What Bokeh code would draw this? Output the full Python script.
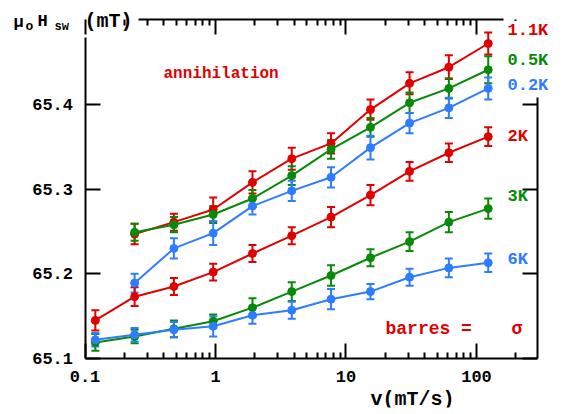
from bokeh.plotting import figure
from bokeh.models import (ColumnDataSource, Whisker, TeeHead, Label, FixedTicker,
                          LogAxis, LinearAxis, Range1d)
from bokeh.core.properties import value
from bokeh.embed import file_html
from bokeh.resources import INLINE

# ---- data ----
v_full = [0.12, 0.24, 0.48, 0.96, 1.92, 3.84, 7.68, 15.4, 30.7, 61.4, 123]
v_part = [0.24, 0.48, 0.96, 1.92, 3.84, 7.68, 15.4, 30.7, 61.4, 123]

h_11K = [65.247, 65.261, 65.276, 65.308, 65.336, 65.354, 65.394, 65.425, 65.444, 65.472]
e_11K = [0.012, 0.010, 0.014, 0.013, 0.013, 0.012, 0.012, 0.013, 0.014, 0.013]
h_05K = [65.249, 65.258, 65.270, 65.289, 65.316, 65.347, 65.373, 65.402, 65.419, 65.441]
e_05K = [0.010, 0.009, 0.010, 0.010, 0.011, 0.011, 0.011, 0.012, 0.012, 0.016]
h_02K = [65.189, 65.230, 65.248, 65.280, 65.298, 65.314, 65.349, 65.378, 65.396, 65.419]
e_02K = [0.011, 0.012, 0.014, 0.010, 0.012, 0.012, 0.014, 0.012, 0.012, 0.013]
h_2K = [65.145, 65.173, 65.185, 65.202, 65.224, 65.245, 65.267, 65.293, 65.321, 65.343, 65.362]
e_2K = [0.012, 0.011, 0.010, 0.010, 0.010, 0.010, 0.012, 0.012, 0.011, 0.011, 0.011]
h_3K = [65.119, 65.126, 65.135, 65.144, 65.160, 65.179, 65.198, 65.219, 65.238, 65.261, 65.277]
e_3K = [0.010, 0.008, 0.010, 0.008, 0.011, 0.011, 0.012, 0.010, 0.011, 0.012, 0.012]
h_6K = [65.122, 65.128, 65.134, 65.138, 65.151, 65.157, 65.170, 65.179, 65.196, 65.207, 65.213]
e_6K = [0.008, 0.008, 0.009, 0.012, 0.010, 0.010, 0.012, 0.009, 0.010, 0.011, 0.011]

x_major = [0.1, 1, 10, 100]
x_labels = ["0.1", "1", "10", "100"]
x_minor = [0.2, 0.3, 0.4, 0.5, 0.6, 0.7, 0.8, 0.9, 2, 3, 4, 5, 6, 7, 8, 9,
           20, 30, 40, 50, 60, 70, 80, 90, 200]
y_major = [65.1, 65.2, 65.3, 65.4]
y_labels = ["65.1", "65.2", "65.3", "65.4"]

# plot box limits (axes drawn at these data positions)
X_LO, X_HI = 0.1, 293
Y_LO, Y_HI = 65.1, 65.5

RED, GREEN, BLUE = "#e00000", "#078a07", "#2e7cff"
FONT = "Liberation Mono"

series = [
    ("1.1K", v_part, h_11K, e_11K, RED),
    ("0.5K", v_part, h_05K, e_05K, GREEN),
    ("0.2K", v_part, h_02K, e_02K, BLUE),
    ("2K", v_full, h_2K, e_2K, RED),
    ("3K", v_full, h_3K, e_3K, GREEN),
    ("6K", v_full, h_6K, e_6K, BLUE),
]

# the frame covers almost the whole canvas; the plot box sits inside it
p = figure(width=560, height=412, x_axis_type="log",
           x_axis_location=None, y_axis_location=None,
           x_range=Range1d(0.02459, 403.1), y_range=Range1d(65.0421, 65.5169),
           output_backend="svg", toolbar_location=None,
           min_border_left=5, min_border_right=5, min_border_top=5, min_border_bottom=5,
           outline_line_color=None, background_fill_color="white", border_fill_color="white")
p.grid.visible = False

for name, xs, ys, es, col in series:
    src = ColumnDataSource(dict(x=xs, y=ys,
                                upper=[a + b for a, b in zip(ys, es)],
                                lower=[a - b for a, b in zip(ys, es)]))
    p.add_layout(Whisker(base="x", upper="upper", lower="lower", source=src,
                         line_color=col, line_width=2,
                         upper_head=TeeHead(size=8, line_color=col, line_width=2),
                         lower_head=TeeHead(size=8, line_color=col, line_width=2)))
    p.line("x", "y", source=src, line_color=col, line_width=2)
    p.scatter("x", "y", source=src, size=8, fill_color=col, line_color=col)


def style_axis(ax):
    ax.axis_line_width = 2
    ax.axis_line_color = "black"
    ax.major_tick_line_width = 2
    ax.major_tick_in = 15
    ax.major_tick_out = 0
    ax.minor_tick_line_width = 2
    ax.minor_tick_in = 6
    ax.minor_tick_out = 0
    ax.major_label_text_color = None
    ax.major_label_text_font_size = "1px"
    ax.major_label_standoff = 0


xb = LogAxis(ticker=FixedTicker(ticks=x_major, minor_ticks=x_minor),
             fixed_location=Y_LO, bounds=(X_LO, X_HI))
style_axis(xb)
p.add_layout(xb, "below")

xt = LogAxis(ticker=FixedTicker(ticks=x_major, minor_ticks=x_minor),
             fixed_location=Y_HI, bounds=(0.257, 161))
style_axis(xt)
p.add_layout(xt, "above")

yl = LinearAxis(ticker=FixedTicker(ticks=y_major), fixed_location=X_LO,
                bounds=(Y_LO, 65.479))
style_axis(yl)
yl.minor_tick_line_color = None
p.add_layout(yl, "left")

yr = LinearAxis(ticker=FixedTicker(ticks=y_major), fixed_location=X_HI,
                bounds=(Y_LO, 65.408))
style_axis(yr)
yr.minor_tick_line_color = None
p.add_layout(yr, "right")

# tick labels
p.text(x=x_major, y=[Y_LO] * len(x_major), text=x_labels, y_offset=13,
       text_align="center", text_baseline="top", text_font=value(FONT),
       text_font_style="bold", text_font_size="17px", text_color="black")
p.text(x=[X_LO] * len(y_major), y=y_major, text=y_labels, x_offset=-12,
       text_align="right", text_baseline="middle", text_font=value(FONT),
       text_font_style="bold", text_font_size="17px", text_color="black")


def lab(x, y, text, color="black", size="17px", align="left", bg=None):
    kw = dict(x=x, y=y, x_units="screen", y_units="screen", text=text,
              text_font=FONT, text_font_style="bold", text_font_size=size,
              text_color=color, text_align=align, text_baseline="middle")
    if bg:
        kw["background_fill_color"] = bg
    p.add_layout(Label(**kw))


# right-hand series labels
lab(502, 377, "1.1K", RED, bg="white")
lab(502, 347, "0.5K", GREEN, bg="white")
lab(502, 322, "0.2K", BLUE, bg="white")
lab(502, 271, "2K", RED)
lab(502, 211, "3K", GREEN)
lab(502, 148, "6K", BLUE)

lab(158, 334, "annihilation", RED, size="16px")
lab(380, 79, "barres =", RED, size="18px")
lab(506, 79, "σ", RED, size="18px")

# axis titles
lab(407, 8, "v(mT/s)", "black", size="20px", align="center")
lab(8, 385, "μ", "black", size="17px")
lab(20, 381, "o", "black", size="13px")
lab(32, 386, "H", "black", size="17px")
lab(49, 381, "sw", "black", size="12px")
lab(79, 386, "(mT)", "black", size="20px")

open("out.html", "w").write(file_html(p, INLINE))
